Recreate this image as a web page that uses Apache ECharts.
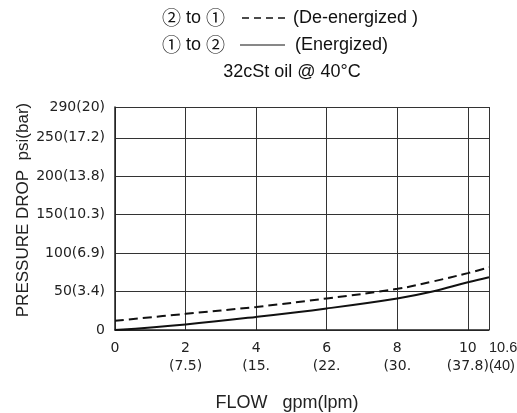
<!DOCTYPE html>
<html>
<head>
<meta charset="utf-8">
<script src="https://cdn.jsdelivr.net/npm/echarts@6/dist/echarts.min.js"></script>
<style>
html,body{margin:0;padding:0;background:#fff;}
#c{width:517px;height:413px;}
</style>
</head>
<body>
<div id="c"></div>
<script>
// Data
const flowGpm = [0, 2, 4, 6, 8, 9, 10, 10.6];
const deEnergized = [12, 21, 30, 41, 53.5, 63, 74, 81.5];   // ② to ① dashed
const energized = [0, 7.3, 17, 28, 41, 50, 62, 68.5];       // ① to ② solid
const yTicks = [0, 50, 100, 150, 200, 250, 290];
const yTickLabels = ['0', '50(3.4)', '100(6.9)', '150(10.3)', '200(13.8)', '250(17.2)', '290(20)'];
const xTicks = [0, 2, 4, 6, 8, 10, 10.6];
const xTickLabels = ['0', '2\n(7.5)', '4\n(15.', '6\n(22.', '8\n(30.', '10\n(37.8)', '10.6\n(40)'];

const FONT = "'Liberation Sans', Arial, sans-serif";
const TICKFONT = "'DejaVu Sans', sans-serif";
const CJK = "'Noto Sans CJK JP', 'DejaVu Sans', sans-serif";
const chart = echarts.init(document.getElementById('c'));

function pairs(xs, ys) { return xs.map((x, i) => [x, ys[i]]); }
const lastX = xTicks[xTicks.length - 1];
function xLabel(v) {
  const i = xTicks.findIndex(t => Math.abs(t - v) < 1e-6);
  return i < 0 ? '' : xTickLabels[i];
}

const baseX = {
  type: 'value', min: 0, max: lastX, interval: 2, position: 'bottom',
  axisTick: { show: false }
};

chart.setOption({
  animation: false,
  backgroundColor: '#fff',
  grid: { left: 115, right: 28, top: 107, bottom: 83, outerBoundsMode: 'none', containLabel: false },
  xAxis: [
    Object.assign({}, baseX, {
      axisLine: { show: true, lineStyle: { color: '#222', width: 1.5 } },
      splitLine: { show: true, lineStyle: { color: '#333', width: 1 } },
      axisLabel: {
        showMaxLabel: false, showMinLabel: true, hideOverlap: false,
        margin: 9, color: '#222', fontFamily: TICKFONT, fontSize: 14, lineHeight: 18,
        formatter: v => (Math.abs(v - lastX) < 1e-6 ? '' : xLabel(v))
      }
    }),
    Object.assign({}, baseX, {
      axisLine: { show: false },
      splitLine: { show: false },
      axisLabel: {
        showMaxLabel: true, showMinLabel: false, hideOverlap: false, alignMaxLabel: 'left',
        margin: 9, color: '#222', fontFamily: FONT, fontSize: 14.5, lineHeight: 18,
        formatter: v => (Math.abs(v - lastX) < 1e-6 ? xLabel(v) : '')
      }
    })
  ],
  yAxis: {
    type: 'value', min: 0, max: 290, interval: 50,
    axisLine: { show: true, lineStyle: { color: '#222', width: 1.5 } },
    axisTick: { show: false },
    splitLine: { show: true, lineStyle: { color: '#333', width: 1 } },
    axisLabel: {
      showMaxLabel: true, margin: 10, color: '#222', fontFamily: TICKFONT, fontSize: 14,
      formatter: function (v) {
        const i = yTicks.findIndex(t => Math.abs(t - v) < 1e-6);
        return i < 0 ? '' : yTickLabels[i];
      }
    }
  },
  series: [
    {
      name: 'De-energized', type: 'line', smooth: 0.4, symbol: 'none', xAxisIndex: 0,
      data: pairs(flowGpm, deEnergized),
      lineStyle: { color: '#111', width: 2, type: [9, 5] }
    },
    {
      name: 'Energized', type: 'line', smooth: 0.4, symbol: 'none', xAxisIndex: 0,
      data: pairs(flowGpm, energized),
      lineStyle: { color: '#111', width: 2 }
    }
  ],
  graphic: [
    { type: 'text', x: 162, y: 18, style: { text: '{c|②} to {c|①}', font: '18px ' + FONT, fill: '#111', verticalAlign: 'middle',
        rich: { c: { fontFamily: CJK, fontSize: 19, fill: '#111' } } } },
    { type: 'line', shape: { x1: 242, y1: 18, x2: 288, y2: 18 }, style: { stroke: '#111', lineWidth: 1.5, lineDash: [7, 5] } },
    { type: 'text', x: 293, y: 18, style: { text: '(De-energized )', font: '18px ' + FONT, fill: '#111', verticalAlign: 'middle' } },
    { type: 'text', x: 162, y: 45, style: { text: '{c|①} to {c|②}', font: '18px ' + FONT, fill: '#111', verticalAlign: 'middle',
        rich: { c: { fontFamily: CJK, fontSize: 19, fill: '#111' } } } },
    { type: 'line', shape: { x1: 240, y1: 45, x2: 285, y2: 45 }, style: { stroke: '#111', lineWidth: 1 } },
    { type: 'text', x: 295, y: 45, style: { text: '(Energized)', font: '18px ' + FONT, fill: '#111', verticalAlign: 'middle' } },
    { type: 'text', x: 292, y: 72, style: { text: '32cSt oil @ 40°C', font: '18px ' + FONT, fill: '#111', align: 'center', verticalAlign: 'middle' } },
    { type: 'text', x: 23, y: 210, rotation: Math.PI / 2, style: { text: 'PRESSURE DROP  psi(bar)', font: '17px ' + FONT, fill: '#222', align: 'center', verticalAlign: 'middle' } },
    { type: 'text', x: 287, y: 403, style: { text: 'FLOW   gpm(lpm)', font: '18px ' + FONT, fill: '#222', align: 'center', verticalAlign: 'middle' } }
  ]
});
</script>
</body>
</html>
